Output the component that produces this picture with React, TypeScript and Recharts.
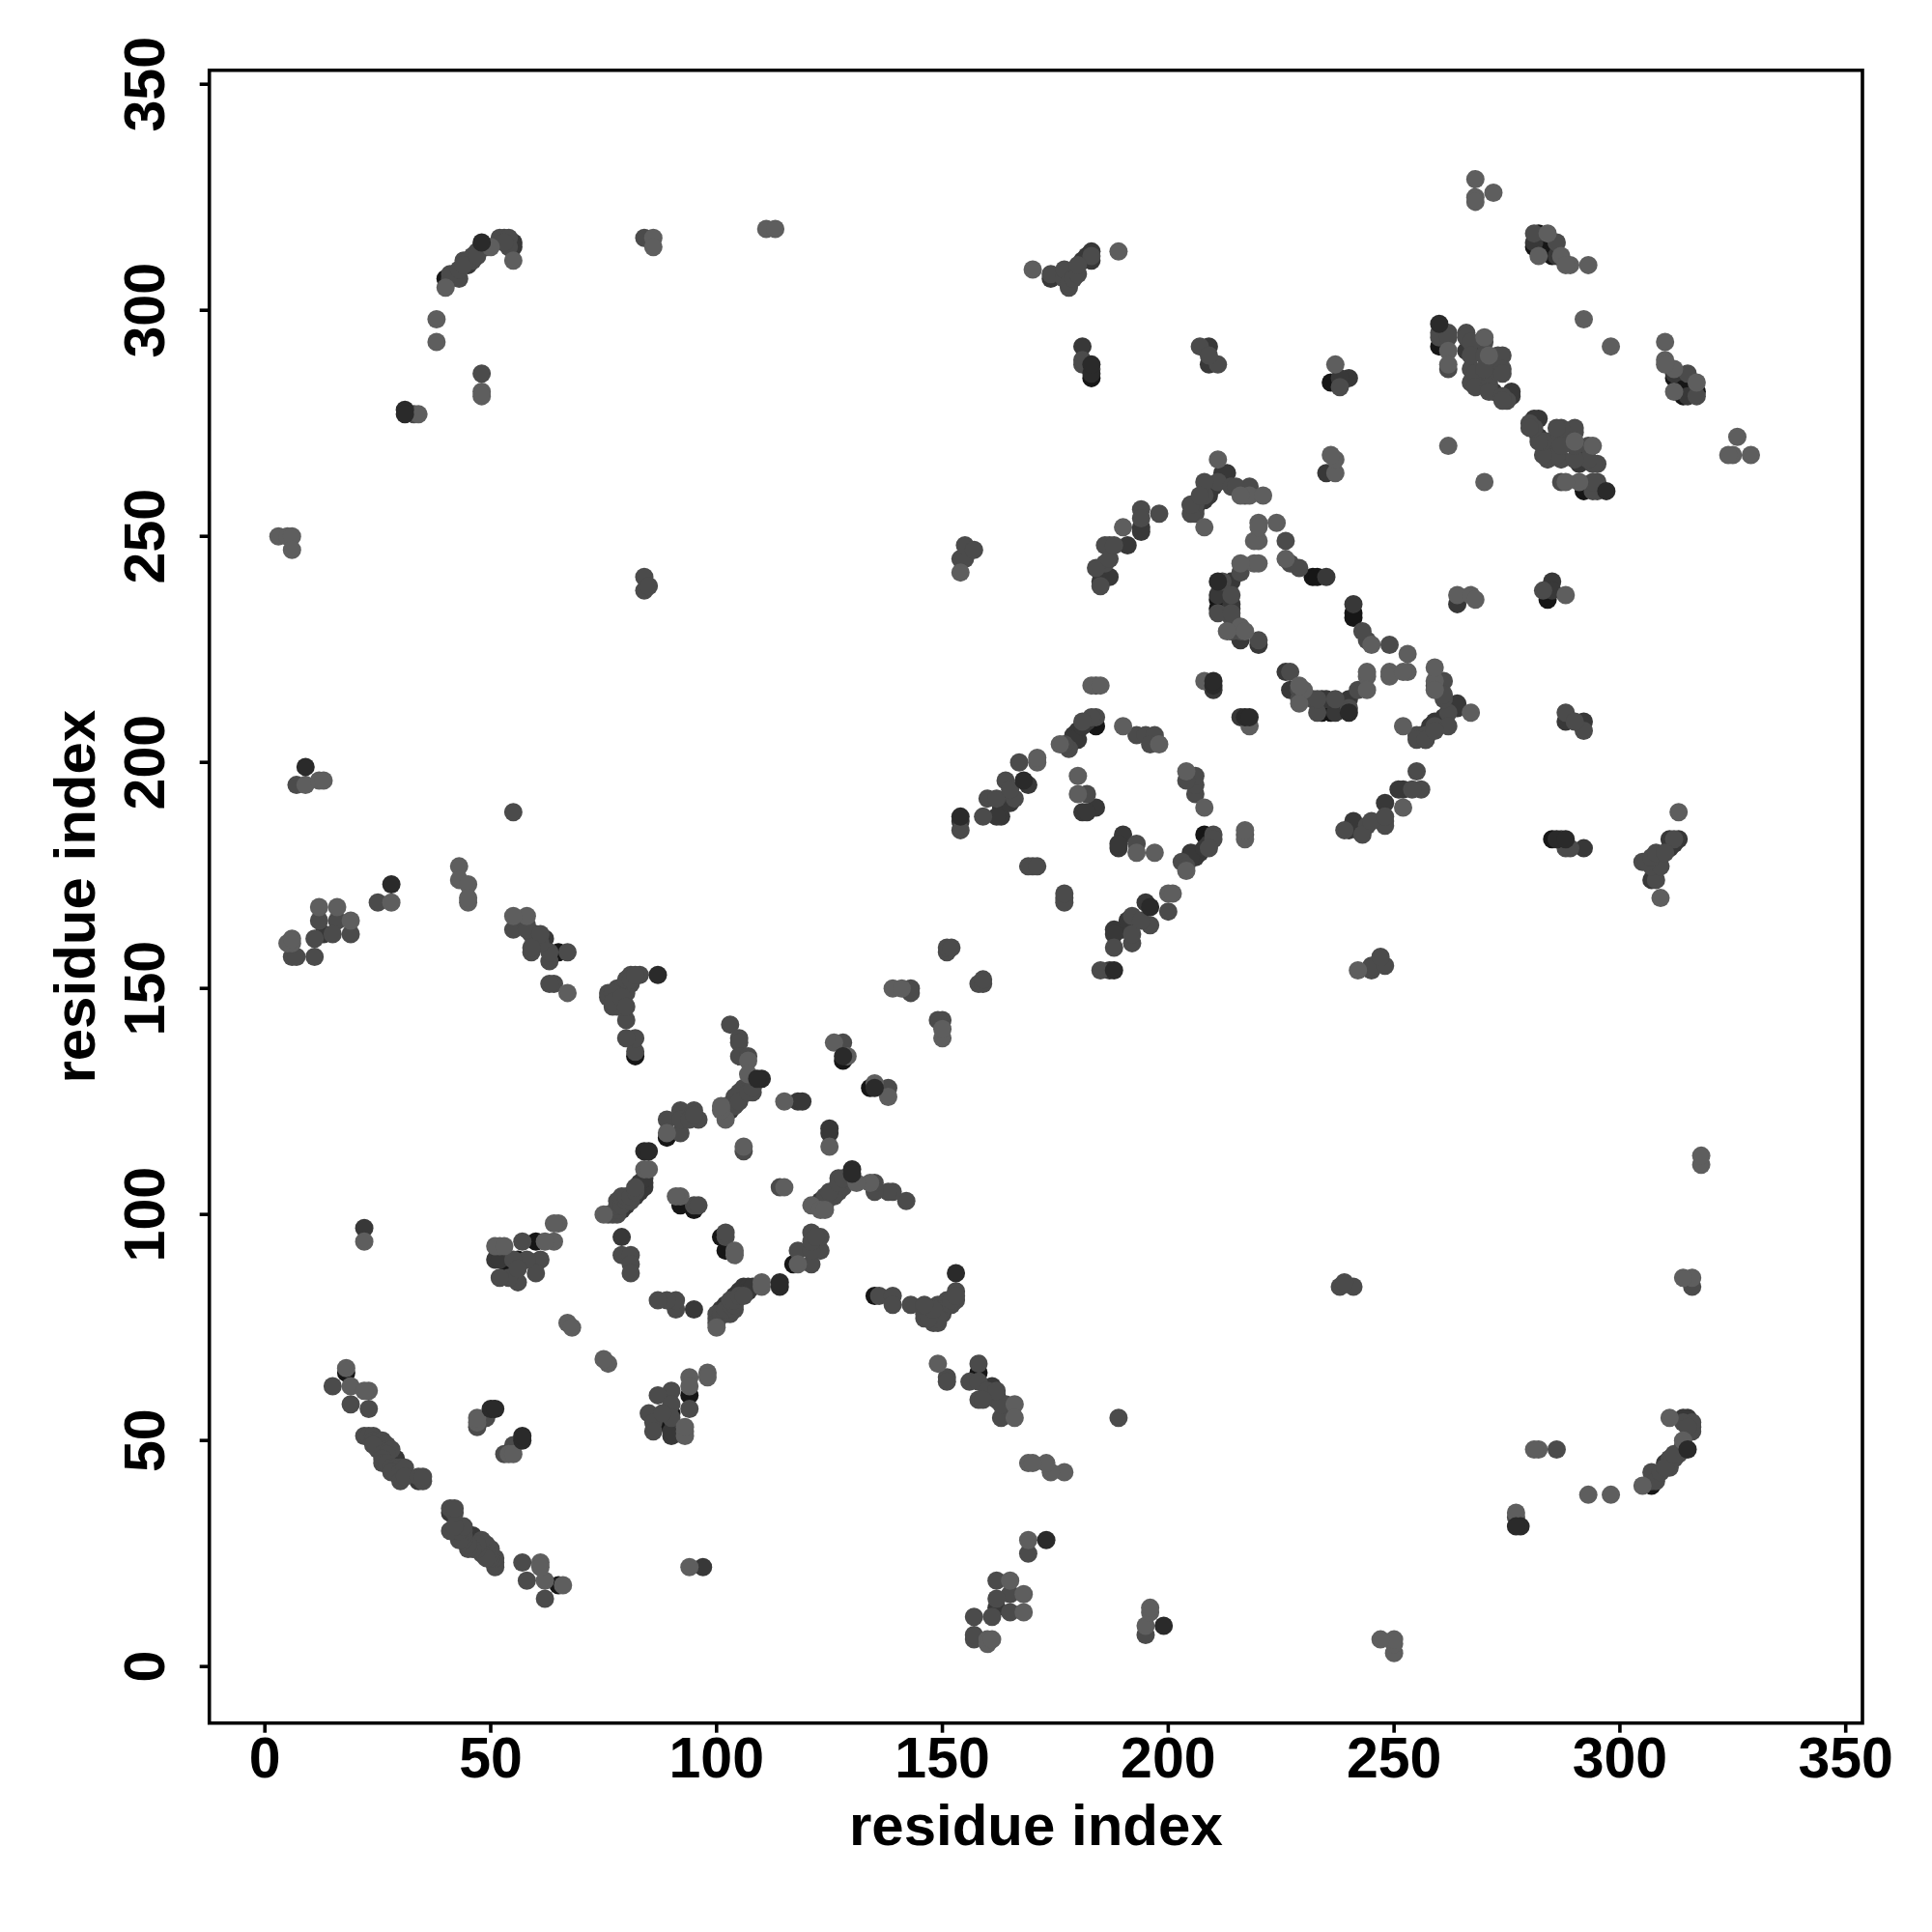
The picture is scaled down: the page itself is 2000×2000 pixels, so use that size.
import { ReferenceArea, Scatter, ScatterChart, XAxis, YAxis } from "recharts";

// contact pairs, grouped by how dark the dot is
const blackUpper = [[18,65],[30,42],[40,307],[54,88],[56,90],[60,94],[92,102],[95,101],[128,134],[184,208],[82,135],[232,241],[233,241],[211,236],[211,234],[236,284],[260,292],[282,317],[282,314],[285,312],[89,117],[65,158],[183,285],[283,314],[281,314]];
const blackLower = [[65,18],[42,30],[307,40],[88,54],[90,56],[94,60],[102,92],[101,95],[134,128],[208,184],[135,82],[241,232],[241,233],[236,211],[234,211],[284,236],[292,260],[317,282],[314,282],[312,285],[117,89],[158,65],[285,183],[314,283],[314,281]];

const darkUpper = [[51,90],[52,90],[22,97],[31,43],[29,46],[34,41],[29,45],[79,101],[80,102],[82,104],[83,105],[84,106],[84,107],[83,107],[84,108],[79,95],[103,123],[118,125],[119,125],[78,147],[62,161],[60,162],[45,310],[48,314],[55,315],[55,314],[13,162],[181,311],[182,312],[183,313],[183,311],[174,307],[209,292],[209,288],[181,292],[154,187],[163,190],[163,188],[162,188],[165,191],[169,195],[181,189],[184,190],[182,189],[185,242],[185,240],[191,248],[194,252],[194,251],[187,241],[180,207],[179,206],[180,205],[179,205],[182,209],[181,208],[210,216],[205,257],[209,259],[208,258],[206,256],[213,264],[210,261],[209,260],[212,264],[235,241],[211,237],[214,234],[214,240],[214,235],[216,227],[220,226],[235,264],[240,285],[238,285],[281,315],[286,312],[266,291],[269,291],[272,282],[276,282],[276,281]];
const darkLower = [[90,51],[90,52],[97,22],[43,31],[46,29],[41,34],[45,29],[101,79],[102,80],[104,82],[105,83],[106,84],[107,84],[107,83],[108,84],[95,79],[123,103],[125,118],[125,119],[147,78],[161,62],[162,60],[310,45],[314,48],[315,55],[314,55],[162,13],[311,181],[312,182],[313,183],[311,183],[307,174],[292,209],[288,209],[292,181],[187,154],[190,163],[188,163],[188,162],[191,165],[195,169],[189,181],[190,184],[189,182],[242,185],[240,185],[248,191],[252,194],[251,194],[241,187],[207,180],[206,179],[205,180],[205,179],[209,182],[208,181],[216,210],[257,205],[259,209],[258,208],[256,206],[264,213],[261,210],[260,209],[264,212],[241,235],[237,211],[234,214],[240,214],[235,214],[227,216],[226,220],[264,235],[285,240],[285,238],[315,281],[312,286],[291,266],[291,269],[282,272],[282,276],[281,276]];

const midUpper = [[15,62],[19,58],[23,57],[22,51],[23,51],[24,51],[24,50],[25,50],[26,50],[26,49],[27,49],[27,48],[28,48],[25,48],[24,49],[26,47],[27,47],[26,46],[26,45],[27,45],[28,44],[29,44],[30,44],[28,43],[30,43],[31,44],[30,41],[31,42],[34,42],[35,41],[35,42],[47,53],[49,55],[57,94],[61,90],[60,87],[58,90],[56,85],[54,86],[52,86],[55,90],[56,88],[77,100],[78,100],[76,100],[78,101],[78,102],[78,103],[79,102],[79,104],[80,103],[80,104],[81,103],[81,104],[82,105],[82,106],[79,91],[81,91],[81,89],[81,87],[95,102],[96,102],[83,153],[81,153],[81,151],[80,150],[80,149],[78,148],[76,148],[77,146],[78,146],[78,150],[79,150],[80,152],[82,136],[82,139],[80,139],[80,143],[79,146],[76,149],[77,149],[77,147],[79,148],[81,152],[82,153],[80,146],[103,142],[105,139],[105,138],[105,135],[107,135],[108,127],[106,128],[105,127],[104,126],[102,124],[104,124],[105,125],[107,127],[108,128],[92,118],[89,121],[92,123],[92,121],[95,123],[96,121],[94,121],[95,122],[106,114],[128,138],[143,150],[143,149],[64,151],[63,151],[151,158],[151,159],[152,159],[67,158],[63,156],[63,158],[59,158],[61,160],[59,162],[55,163],[58,164],[58,163],[61,162],[59,159],[55,189],[12,165],[16,165],[15,162],[19,162],[11,157],[6,157],[7,157],[11,161],[25,169],[7,195],[84,241],[84,238],[85,239],[154,245],[155,245],[155,248],[157,247],[33,277],[48,286],[84,316],[41,307],[42,308],[43,307],[44,311],[46,312],[41,308],[43,309],[47,313],[49,314],[53,316],[46,311],[45,311],[44,310],[47,312],[52,316],[54,316],[54,314],[53,315],[281,317],[286,315],[260,295],[262,295],[266,295],[273,290],[267,287],[267,284],[271,286],[273,287],[271,284],[275,280],[270,293],[260,294],[262,294],[262,287],[266,294],[267,293],[267,290],[268,286],[268,283],[270,290],[270,287],[271,283],[271,282],[274,290],[274,287],[274,286],[274,281],[274,280],[226,249],[227,244],[229,243],[212,240],[214,237],[214,232],[220,227],[216,229],[211,233],[216,242],[214,229],[214,233],[206,255],[211,262],[214,261],[218,261],[217,259],[215,261],[206,257],[205,255],[205,257],[208,259],[208,262],[207,259],[184,210],[183,210],[178,203],[177,204],[181,209],[193,206],[195,206],[197,206],[196,204],[182,193],[184,217],[198,255],[194,256],[194,254],[187,248],[186,248],[186,244],[185,239],[184,243],[187,245],[188,248],[170,177],[169,177],[171,177],[167,200],[166,192],[164,196],[159,188],[160,192],[162,192],[165,194],[154,185],[181,288],[183,287],[181,289],[183,312],[174,308],[177,307],[177,309],[178,305],[178,306],[179,307],[180,308],[180,310],[207,292],[211,288],[209,290],[238,283]];
const midLower = [[62,15],[58,19],[57,23],[51,22],[51,23],[51,24],[50,24],[50,25],[50,26],[49,26],[49,27],[48,27],[48,28],[48,25],[49,24],[47,26],[47,27],[46,26],[45,26],[45,27],[44,28],[44,29],[44,30],[43,28],[43,30],[44,31],[41,30],[42,31],[42,34],[41,35],[42,35],[53,47],[55,49],[94,57],[90,61],[87,60],[90,58],[85,56],[86,54],[86,52],[90,55],[88,56],[100,77],[100,78],[100,76],[101,78],[102,78],[103,78],[102,79],[104,79],[103,80],[104,80],[103,81],[104,81],[105,82],[106,82],[91,79],[91,81],[89,81],[87,81],[102,95],[102,96],[153,83],[153,81],[151,81],[150,80],[149,80],[148,78],[148,76],[146,77],[146,78],[150,78],[150,79],[152,80],[136,82],[139,82],[139,80],[143,80],[146,79],[149,76],[149,77],[147,77],[148,79],[152,81],[153,82],[146,80],[142,103],[139,105],[138,105],[135,105],[135,107],[127,108],[128,106],[127,105],[126,104],[124,102],[124,104],[125,105],[127,107],[128,108],[118,92],[121,89],[123,92],[121,92],[123,95],[121,96],[121,94],[122,95],[114,106],[138,128],[150,143],[149,143],[151,64],[151,63],[158,151],[159,151],[159,152],[158,67],[156,63],[158,63],[158,59],[160,61],[162,59],[163,55],[164,58],[163,58],[162,61],[159,59],[189,55],[165,12],[165,16],[162,15],[162,19],[157,11],[157,6],[157,7],[161,11],[169,25],[195,7],[241,84],[238,84],[239,85],[245,154],[245,155],[248,155],[247,157],[277,33],[286,48],[316,84],[307,41],[308,42],[307,43],[311,44],[312,46],[308,41],[309,43],[313,47],[314,49],[316,53],[311,46],[311,45],[310,44],[312,47],[316,52],[316,54],[314,54],[315,53],[317,281],[315,286],[295,260],[295,262],[295,266],[290,273],[287,267],[284,267],[286,271],[287,273],[284,271],[280,275],[293,270],[294,260],[294,262],[287,262],[294,266],[293,267],[290,267],[286,268],[283,268],[290,270],[287,270],[283,271],[282,271],[290,274],[287,274],[286,274],[281,274],[280,274],[249,226],[244,227],[243,229],[240,212],[237,214],[232,214],[227,220],[229,216],[233,211],[242,216],[229,214],[233,214],[255,206],[262,211],[261,214],[261,218],[259,217],[261,215],[257,206],[255,205],[257,205],[259,208],[262,208],[259,207],[210,184],[210,183],[203,178],[204,177],[209,181],[206,193],[206,195],[206,197],[204,196],[193,182],[217,184],[255,198],[256,194],[254,194],[248,187],[248,186],[244,186],[239,185],[243,184],[245,187],[248,188],[177,170],[177,169],[177,171],[200,167],[192,166],[196,164],[188,159],[192,160],[192,162],[194,165],[185,154],[288,181],[287,183],[289,181],[312,183],[308,174],[307,177],[309,177],[305,178],[306,178],[307,179],[308,180],[310,180],[292,207],[288,211],[290,209],[283,238]];

const lightUpper = [[18,66],[19,62],[23,61],[22,61],[22,94],[47,54],[47,55],[65,98],[64,98],[64,94],[62,94],[52,93],[51,93],[53,93],[67,76],[68,75],[75,100],[84,110],[85,110],[92,104],[91,104],[107,134],[102,121],[107,131],[101,123],[101,124],[115,125],[89,118],[106,115],[126,138],[129,135],[139,150],[141,150],[67,149],[58,166],[55,166],[43,177],[43,174],[45,173],[45,169],[45,170],[6,160],[5,160],[6,161],[12,168],[16,168],[19,165],[28,169],[9,195],[12,196],[13,196],[3,250],[5,250],[6,250],[6,247],[154,242],[34,277],[48,282],[48,281],[38,298],[38,293],[86,316],[86,314],[111,318],[113,318],[40,305],[50,314],[55,311],[268,329],[268,325],[268,324],[272,326],[262,270],[284,317],[282,312],[287,312],[289,310],[293,310],[288,310],[292,298],[262,291],[262,288],[270,294],[271,290],[220,249],[220,253],[224,253],[226,245],[219,244],[219,249],[220,252],[216,244],[220,244],[216,230],[213,229],[217,229],[211,267],[208,252],[218,259],[221,259],[216,259],[176,204],[190,208],[198,204],[180,197],[180,193],[183,217],[185,217],[208,218],[190,252],[171,200],[171,201],[237,264],[237,267],[236,268],[237,288],[189,313],[170,309]];
const lightLower = [[66,18],[62,19],[61,23],[61,22],[94,22],[54,47],[55,47],[98,65],[98,64],[94,64],[94,62],[93,52],[93,51],[93,53],[76,67],[75,68],[100,75],[110,84],[110,85],[104,92],[104,91],[134,107],[121,102],[131,107],[123,101],[124,101],[125,115],[118,89],[115,106],[138,126],[135,129],[150,139],[150,141],[149,67],[166,58],[166,55],[177,43],[174,43],[173,45],[169,45],[170,45],[160,6],[160,5],[161,6],[168,12],[168,16],[165,19],[169,28],[195,9],[196,12],[196,13],[250,3],[250,5],[250,6],[247,6],[242,154],[277,34],[282,48],[281,48],[298,38],[293,38],[316,86],[314,86],[318,111],[318,113],[305,40],[314,50],[311,55],[329,268],[325,268],[324,268],[326,272],[270,262],[317,284],[312,282],[312,287],[310,289],[310,293],[310,288],[298,292],[291,262],[288,262],[294,270],[290,271],[249,220],[253,220],[253,224],[245,226],[244,219],[249,219],[252,220],[244,216],[244,220],[230,216],[229,213],[229,217],[267,211],[252,208],[259,218],[259,221],[259,216],[204,176],[208,190],[204,198],[197,180],[193,180],[217,183],[217,185],[218,208],[252,190],[200,171],[201,171],[264,237],[267,237],[268,236],[288,237],[313,189],[309,170]];

const strongUpper = [[9,199],[28,173],[50,57],[51,57],[87,153],[110,130],[109,130],[84,114],[85,114],[128,135],[154,188],[211,240],[210,217],[183,286],[183,288],[31,278],[31,277],[260,297],[48,315],[168,196],[210,218]];
const strongLower = [[199,9],[173,28],[57,50],[57,51],[153,87],[130,110],[130,109],[114,84],[114,85],[135,128],[188,154],[240,211],[217,210],[286,183],[288,183],[278,31],[277,31],[297,260],[315,48],[196,168],[218,210]];

const axisTicks = [0, 50, 100, 150, 200, 250, 300, 350];
const axisTitle = "residue index";
const fontFamily = '"Liberation Sans", Arial, sans-serif';

const groups = [
  { key: "black", fill: "#161616", pairs: [...blackUpper, ...blackLower] },
  { key: "dark", fill: "#383838", pairs: [...darkUpper, ...darkLower] },
  { key: "mid", fill: "#4b4b4b", pairs: [...midUpper, ...midLower] },
  { key: "light", fill: "#5e5e5e", pairs: [...lightUpper, ...lightLower] },
  { key: "strong", fill: "#2a2a2a", pairs: [...strongUpper, ...strongLower] },
];

const xDomain: [number, number] = [-12.3, 353.7];
const yDomain: [number, number] = [-12.5, 353.1];

function XTick({ x, y, payload }: any) {
  return (
    <text x={x} y={y} dy={44} textAnchor="middle" fontFamily={fontFamily} fontWeight={700} fontSize={59} fill="#000">
      {payload.value}
    </text>
  );
}

function YTick({ x, y, payload }: any) {
  return (
    <text x={x} y={y} dx={-35} textAnchor="middle" transform={`rotate(-90 ${x - 35} ${y})`} fontFamily={fontFamily} fontWeight={700} fontSize={59} fill="#000">
      {payload.value}
    </text>
  );
}

function Dot({ cx, cy, fill }: any) {
  return <circle cx={cx} cy={cy} r={9.5} fill={fill} />;
}

export default function App() {
  return (
    <div style={{ position: "absolute", left: 0, top: 0, width: 2000, height: 2000, background: "#fff" }}>
      <ScatterChart width={2000} height={2000} margin={{ top: 72.7, right: 72, bottom: 0, left: 0 }}>
        <XAxis
          type="number"
          dataKey="x"
          domain={xDomain}
          ticks={axisTicks}
          interval={0}
          height={216.3}
          allowDataOverflow
          axisLine={false}
          tickSize={10}
          tickLine={{ stroke: "#000", strokeWidth: 3.6 }}
          tick={<XTick />}
          label={{ value: axisTitle, position: "insideBottom", offset: 90, style: { fontFamily, fontWeight: 700, fontSize: 60, fill: "#000" } }}
        />
        <YAxis
          type="number"
          dataKey="y"
          domain={yDomain}
          ticks={axisTicks}
          interval={0}
          width={216.7}
          allowDataOverflow
          axisLine={false}
          tickSize={10}
          tickLine={{ stroke: "#000", strokeWidth: 3.6 }}
          tick={<YTick />}
          label={{ value: axisTitle, angle: -90, position: "insideLeft", offset: 77, style: { fontFamily, fontWeight: 700, fontSize: 60, fill: "#000", textAnchor: "middle" } }}
        />
        {groups.map((g) => (
          <Scatter
            key={g.key}
            data={g.pairs.map(([x, y]) => ({ x, y }))}
            fill={g.fill}
            shape={<Dot />}
            isAnimationActive={false}
          />
        ))}
        <ReferenceArea x1={xDomain[0]} x2={xDomain[1]} y1={yDomain[0]} y2={yDomain[1]} fill="none" stroke="#000" strokeWidth={3.6} />
      </ScatterChart>
    </div>
  );
}
